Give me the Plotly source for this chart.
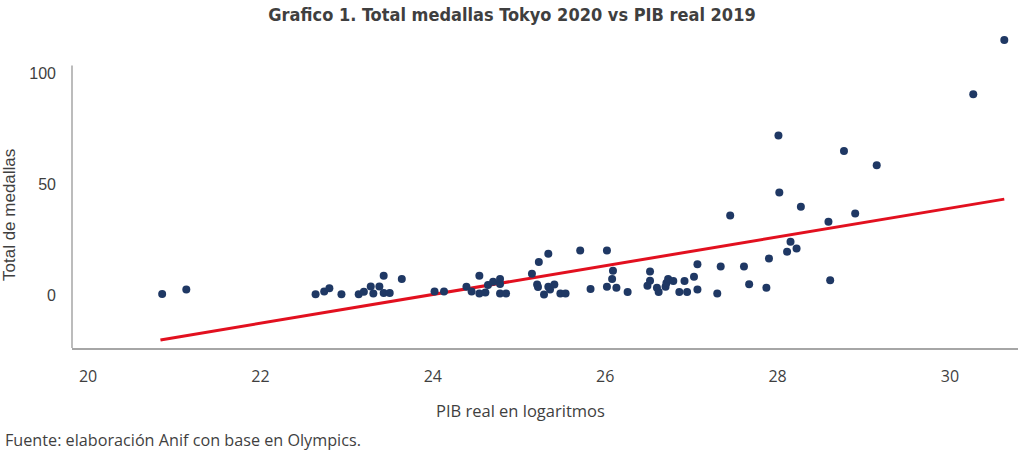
import plotly.graph_objects as go

# PIB real 2019 (log) vs total medallas Tokyo 2020
pib_log = [
    20.86, 21.14, 22.64, 22.74, 22.80, 22.94, 23.14, 23.20, 23.28, 23.31,
    23.38, 23.43, 23.43, 23.50, 23.64, 24.02, 24.13, 24.39, 24.45, 24.54,
    24.54, 24.61, 24.64, 24.70, 24.78, 24.78, 24.78, 24.85, 25.15, 25.21,
    25.22, 25.23, 25.29, 25.34, 25.34, 25.36, 25.41, 25.48, 25.54, 25.71,
    25.83, 26.02, 26.02, 26.08, 26.09, 26.13, 26.26, 26.52, 26.52, 26.49,
    26.60, 26.62, 26.70, 26.71, 26.73, 26.79, 26.86, 26.92, 26.95, 27.03,
    27.07, 27.07, 27.30, 27.34, 27.45, 27.61, 27.67, 27.87, 27.90, 28.01,
    28.02, 28.11, 28.15, 28.22, 28.27, 28.59, 28.61, 28.77, 28.90, 29.15,
    30.27, 30.63,
]
medallas = [
    0.45, 2.56, 0.36, 1.57, 3.06, 0.36, 0.36, 1.48, 3.82, 0.67,
    3.82, 8.68, 0.99, 0.99, 7.19, 1.57, 1.57, 3.73, 1.57, 8.68,
    0.76, 1.21, 4.50, 5.98, 4.95, 7.28, 0.76, 0.76, 9.58, 4.72,
    3.60, 14.84, 0.31, 18.57, 3.73, 2.56, 4.81, 0.76, 0.76, 20.10,
    2.70, 20.10, 3.73, 7.19, 10.93, 3.28, 1.35, 10.66, 6.43, 4.18,
    3.28, 1.35, 3.73, 5.40, 7.19, 6.29, 1.35, 6.29, 1.35, 8.23,
    13.85, 2.47, 0.67, 12.90, 35.88, 12.90, 4.86, 3.28, 16.50, 71.81,
    46.18, 19.47, 23.97, 21.00, 39.79, 32.96, 6.65, 64.88, 36.74, 58.45,
    90.38, 114.8,
]

# linear trend line end points
trend_x = [20.84, 30.63]
trend_y = [-20.2, 43.2]

x_ticks = [20, 22, 24, 26, 28, 30]
y_ticks = [0, 50, 100]

Y_MIN, Y_AXIS_TOP, Y_MAX = -23.83, 103.4, 118.0

fig = go.Figure()
fig.add_trace(
    go.Scatter(
        x=trend_x,
        y=trend_y,
        mode="lines",
        line=dict(color="#E2101F", width=3),
        showlegend=False,
        hoverinfo="skip",
    )
)
fig.add_trace(
    go.Scatter(
        x=pib_log,
        y=medallas,
        mode="markers",
        marker=dict(color="#1F3864", size=8, line=dict(width=0)),
        cliponaxis=False,
        showlegend=False,
    )
)

fig.update_layout(
    width=1024,
    height=451,
    margin=dict(l=72, r=6, t=33, b=103),
    paper_bgcolor="white",
    plot_bgcolor="white",
    title=dict(
        text="<b>Grafico 1. Total medallas Tokyo 2020 vs PIB real 2019</b>",
        font=dict(family="DejaVu Sans Condensed, Liberation Sans Narrow, Roboto",
                  size=18, color="#3F3F3F"),
        x=0.5,
        xanchor="center",
        y=0.967,
        yanchor="middle",
    ),
)
fig.update_xaxes(
    range=[19.814, 30.789],
    tickvals=x_ticks,
    showgrid=False,
    zeroline=False,
    showline=True,
    linecolor="#A6A6A6",
    linewidth=1.5,
    ticks="",
    ticklabelstandoff=13,
    tickfont=dict(family="Open Sans", size=16, color="#3F3F3F"),
)
fig.update_yaxes(
    range=[Y_MIN, Y_MAX],
    tickvals=y_ticks,
    showgrid=False,
    zeroline=False,
    showline=False,
    ticks="",
    ticklabelstandoff=15,
    tickfont=dict(family="Liberation Sans", size=16, color="#3F3F3F"),
)
# y axis line only up to just above 100, as in the original
fig.add_shape(
    type="line",
    xref="paper", yref="y",
    x0=0, x1=0, y0=Y_MIN, y1=Y_AXIS_TOP,
    line=dict(color="#A6A6A6", width=1.5),
)

fig.add_annotation(
    text="PIB real en logaritmos",
    xref="paper", yref="paper",
    x=(520 - 72) / 946, y=-(410 - 348) / 315,
    xanchor="center", yanchor="middle",
    showarrow=False,
    font=dict(family="Open Sans", size=16.5, color="#3F3F3F"),
)
fig.add_annotation(
    text="Total de medallas",
    xref="paper", yref="paper",
    x=-(72 - 10) / 946, y=(348 - 215) / 315,
    xanchor="center", yanchor="middle",
    textangle=-90,
    showarrow=False,
    font=dict(family="Liberation Sans", size=17, color="#3F3F3F"),
)
fig.add_annotation(
    text="Fuente: elaboración Anif con base en Olympics.",
    xref="paper", yref="paper",
    x=-(72 - 3) / 946, y=-(440 - 348) / 315,
    xanchor="left", yanchor="middle",
    showarrow=False,
    font=dict(family="Open Sans", size=16.2, color="#3F3F3F"),
)

fig.write_html(
    "out.html",
    config={"displayModeBar": False},
    post_script="document.body.style.margin='0';",
)
